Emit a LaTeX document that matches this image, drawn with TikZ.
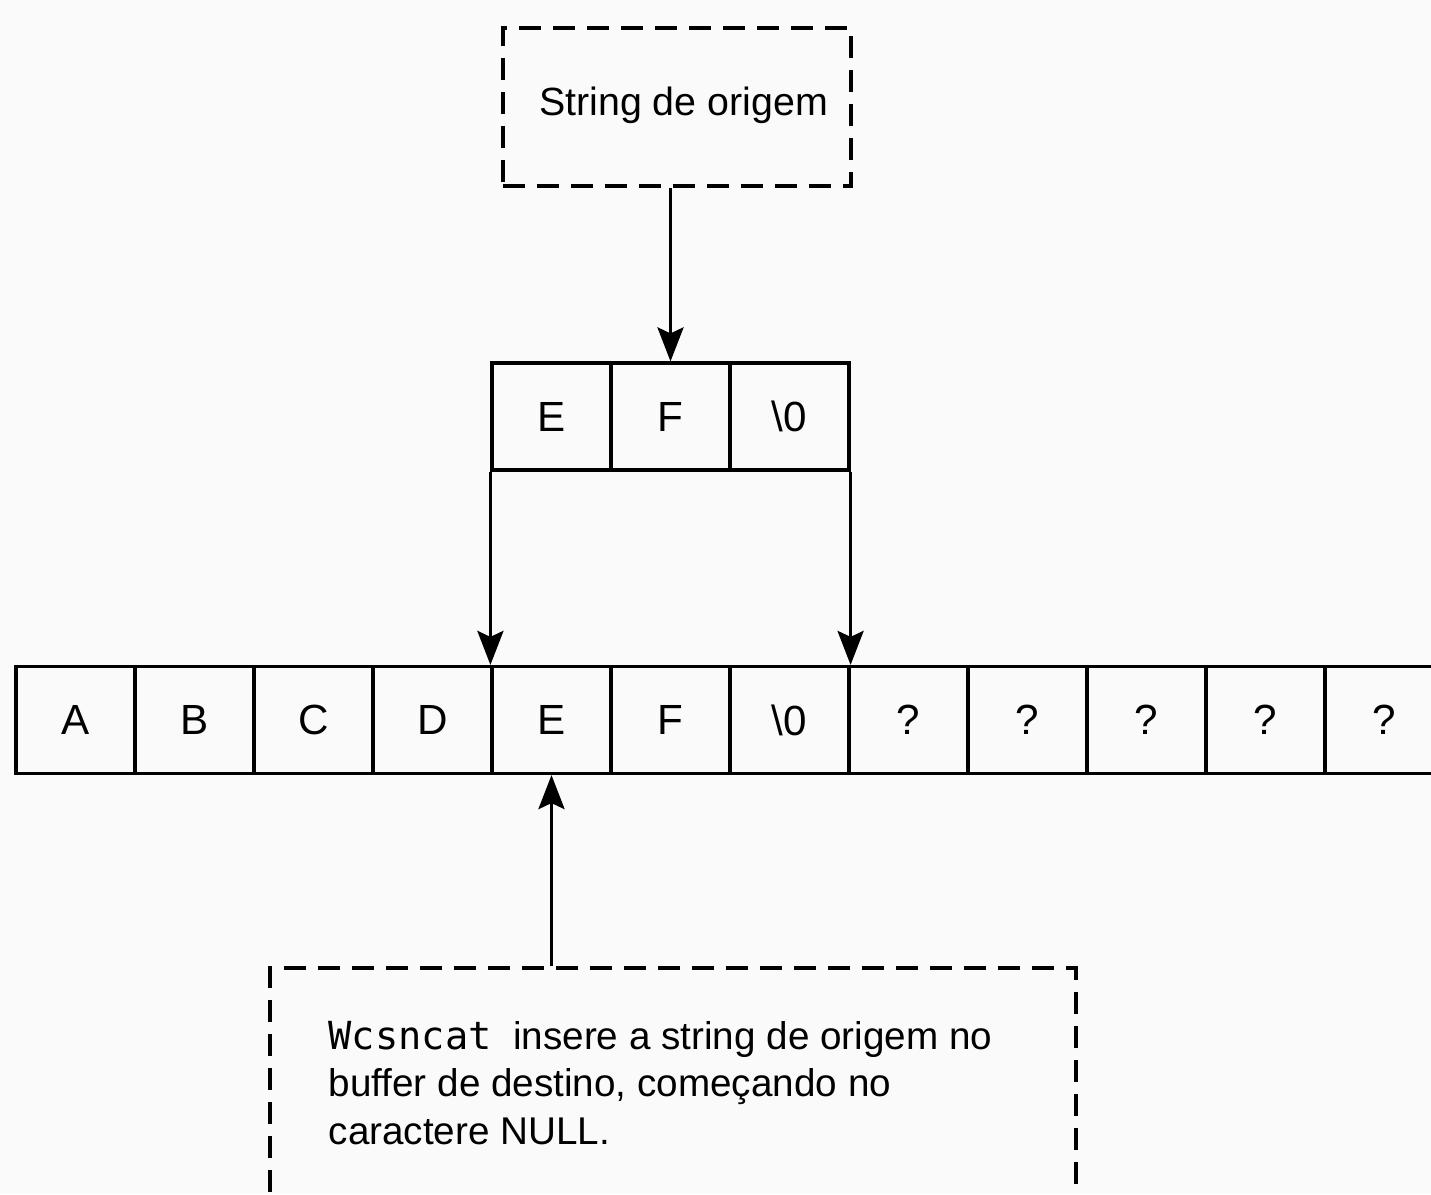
\documentclass[tikz,border=0pt]{standalone}
\usepackage{fontspec}
\setmainfont{Liberation Sans}
\setmonofont{DejaVu Sans Mono}
\usetikzlibrary{arrows.meta}
\definecolor{paper}{RGB}{250,250,250}

\tikzset{
  cell/.style={draw, line width=0.9pt, minimum width=1.19cm, minimum height=1.07cm,
               inner sep=0pt, font=\fontsize{12}{14}\selectfont},
  note/.style={draw, line width=1.1pt, dash pattern=on 0.22cm off 0.12cm},
  link/.style={line width=1pt, -{Stealth[length=3.4mm,width=2.6mm,inset=0.6mm]}}
}

\begin{document}
\begin{tikzpicture}
                % Page
                \fill[paper] (0,0) rectangle (14.31,11.94);
                \clip (0,0) rectangle (14.31,11.94);

                % Source string
                \node[note, minimum width=3.48cm, minimum height=1.58cm] (src) at (6.77,10.87) {};
                \node[font=\fontsize{11.2}{13}\selectfont] (srctxt) at (6.835,10.89) {String de origem};

                % Copied characters
                \node[cell] (s1) at (5.515,7.775) {E};
                \node[cell] (s2) at (6.705,7.775) {F};
                \node[cell] (s3) at (7.895,7.775) {\textbackslash 0};

                % Destination buffer
                \node[cell] (b1) at (0.755,4.74) {A};
                \node[cell] (b2) at (1.945,4.74) {B};
                \node[cell] (b3) at (3.135,4.74) {C};
                \node[cell] (b4) at (4.325,4.74) {D};
                \node[cell] (b5) at (5.515,4.74) {E};
                \node[cell] (b6) at (6.705,4.74) {F};
                \node[cell] (b7) at (7.895,4.74) {\textbackslash 0};
                \node[cell] (b8) at (9.085,4.74) {?};
                \node[cell] (b9) at (10.275,4.74) {?};
                \node[cell] (b10) at (11.465,4.74) {?};
                \node[cell] (b11) at (12.655,4.74) {?};
                \node[cell] (b12) at (13.845,4.74) {?};

                % Explanation
                \node[note, minimum width=8.06cm, minimum height=2.6cm] (info) at (6.73,0.96) {};
                \node[anchor=north west, align=left, inner sep=0pt,
                      font=\fontsize{11}{13.4}\selectfont] (txt) at (3.28,1.73)
                      {\texttt{Wcsncat}\ \ insere a string de origem no\\
                       buffer de destino, começando no\\
                       caractere NULL.};

                % Arrows
                \draw[link] (src.south -| s2.north) -- (s2.north);
                \draw[link] (s1.south west) -- (b5.north west);
                \draw[link] (s3.south east) -- (b7.north east);
                \draw[link] (info.north -| b5.south) -- (b5.south);
            \end{tikzpicture}
\end{document}
